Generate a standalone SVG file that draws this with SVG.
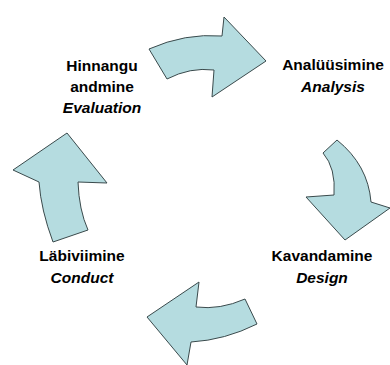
<svg xmlns="http://www.w3.org/2000/svg" width="390" height="365" viewBox="0 0 390 365">
<style>
.arr{fill:#B5DCE0;stroke:#3a4a4c;stroke-width:1;stroke-linejoin:miter}
text{font-family:"Liberation Sans",Arial,sans-serif;font-size:15.5px;font-weight:bold;fill:#000;text-anchor:middle}
.it{font-style:italic}
</style>
<rect width="390" height="365" fill="#fff"/>
<g id="connectors">
<path class="arr" d="M149,49 Q185,33 222,36 L224,17 L266,61 L212,97 L214,70 Q190,67 167,79 Z"/>
<path class="arr" d="M323,153 L337,140 Q368,165 371,202 L390,208 L345,240 L306,197 L334,195 Q336,168 323,153 Z"/>
<path class="arr" d="M245,299 Q220,310 196,307 L199,282 L147,317 L187,365 L191,342 Q225,340 257,324 Z"/>
<path class="arr" d="M53,242 Q41,210 39,182 L13,170 L67,133 L107,183 L78,182 Q79,210 88,230 Z"/>
</g>
<g id="evaluation">
<text x="102" y="71">Hinnangu</text>
<text x="102" y="92">andmine</text>
<text x="102" y="113" class="it">Evaluation</text>
</g>
<g id="analysis">
<text x="333" y="70">Analüüsimine</text>
<text x="333" y="92" class="it">Analysis</text>
</g>
<g id="design">
<text x="322" y="261">Kavandamine</text>
<text x="322" y="283" class="it">Design</text>
</g>
<g id="conduct">
<text x="82" y="261">Läbiviimine</text>
<text x="82" y="283" class="it">Conduct</text>
</g>
</svg>
